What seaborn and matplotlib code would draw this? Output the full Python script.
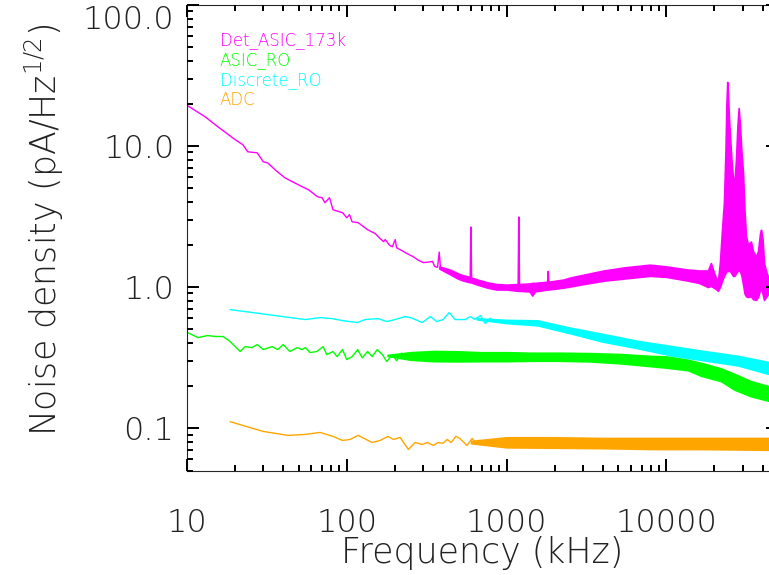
import matplotlib
matplotlib.use("Agg")
import matplotlib.pyplot as plt
import matplotlib.transforms as mtransforms
import seaborn as sns
import pandas as pd
from matplotlib.ticker import FixedLocator, FixedFormatter, LogLocator, NullFormatter

# ---------------- data ----------------
# Det_ASIC_173k : thin low-frequency part
det_line_f = [10.1, 13.0, 15.6, 20.0, 22.4, 24.0, 27.5, 30.0, 32.0, 35.6, 41, 52.6, 57.5, 61,
              65.5, 70, 73, 78, 82, 94, 100, 104, 108, 118, 135, 151, 162, 170, 174, 185, 193,
              201, 205, 216, 240, 261, 280, 302, 320, 344, 355, 370, 379, 386, 410, 430]
det_line_v = [19.3, 16.1, 13.7, 11.1, 10.2, 9.1, 8.95, 7.73, 7.6, 6.78, 5.95, 5.14, 4.9, 4.66,
              4.37, 4.30, 3.96, 4.30, 3.53, 3.37, 3.10, 3.26, 2.90, 2.86, 2.55, 2.39, 2.2, 2.10,
              2.17, 1.98, 1.93, 2.17, 1.90, 1.84, 1.72, 1.64, 1.55, 1.49, 1.50, 1.52, 1.40, 1.38,
              1.77, 1.36, 1.33, 1.27]
# Det_ASIC_173k : dense noisy part (lower / upper envelope)
det_band_f = [380, 450, 494, 537, 589, 594, 599, 656, 758, 865, 1000, 1175, 1185, 1195, 1394,
              1450, 1500, 1795, 1810, 1825, 2270, 2518, 2900, 4055, 5500, 7877, 10000, 13650,
              16000, 18200, 19020, 19800, 20400, 21030, 21650, 22280, 22940, 23440, 23780, 24060,
              24300, 24650, 25010, 25560, 26120, 26690, 27280, 27870, 28370, 28900, 29540, 30190,
              30850, 31520, 32440, 33870, 34860, 36400, 37480, 38580, 39140, 40000, 40880, 42060,
              43930, 50000]
det_band_lo = [1.35, 1.22, 1.15, 1.11, 1.08, 1.08, 1.08, 1.04, 0.99, 0.96, 0.96, 0.94, 0.94, 0.94,
               0.93, 0.87, 0.93, 0.96, 0.96, 0.96, 0.99, 1.01, 1.04, 1.11, 1.15, 1.20, 1.18, 1.11,
               1.07, 1.00, 1.02, 0.99, 0.97, 0.94, 1.00, 1.10, 1.20, 1.25, 1.30, 1.30, 1.30, 1.30,
               1.30, 1.25, 1.20, 1.20, 1.25, 1.30, 1.30, 1.30, 1.20, 1.05, 0.90, 0.86, 0.85, 0.86,
               0.82, 0.81, 0.85, 0.95, 1.00, 0.90, 0.81, 0.85, 0.91, 0.95]
det_band_hi = [1.40, 1.32, 1.25, 1.21, 1.18, 2.68, 1.17, 1.13, 1.08, 1.05, 1.04, 1.05, 3.15, 1.05,
               1.06, 1.07, 1.07, 1.09, 1.30, 1.09, 1.13, 1.17, 1.21, 1.31, 1.38, 1.44, 1.40, 1.33,
               1.31, 1.31, 1.48, 1.28, 1.17, 1.10, 1.50, 2.50, 4.00, 9.0, 20.0, 28.5, 24.0, 16.0,
               12.0, 8.0, 6.0, 5.5, 8.0, 14.0, 18.6, 14.0, 9.0, 6.5, 3.5, 2.3, 2.0, 2.1, 1.8, 1.64,
               1.8, 2.4, 2.55, 2.2, 1.48, 1.30, 1.13, 1.10]

# ASIC_RO
asic_line_f = [10.1, 11.7, 13.4, 15.0, 16.8, 18.6, 21.5, 23.1, 25.5, 27.5, 30, 34, 37, 40, 44, 49,
               52.5, 55, 59, 65, 71, 75, 82, 87, 94, 100, 108, 117, 125, 135, 144, 155, 167, 178,
               193, 205, 220]
asic_line_v = [0.475, 0.438, 0.453, 0.446, 0.446, 0.411, 0.349, 0.378, 0.372, 0.391, 0.360, 0.378,
               0.360, 0.391, 0.349, 0.372, 0.360, 0.372, 0.343, 0.349, 0.378, 0.332, 0.349, 0.321,
               0.360, 0.306, 0.321, 0.360, 0.315, 0.349, 0.321, 0.360, 0.332, 0.296, 0.332, 0.30,
               0.34]
asic_band_f = [180, 250, 350, 500, 687, 1000, 1394, 2150, 3300, 5100, 7900, 10000, 13650, 16440,
               21980, 26730, 33850, 50000]
asic_band_lo = [0.325, 0.305, 0.298, 0.297, 0.298, 0.298, 0.300, 0.300, 0.297, 0.288, 0.275, 0.268,
                0.257, 0.235, 0.215, 0.187, 0.168, 0.150]
asic_band_hi = [0.330, 0.345, 0.352, 0.350, 0.345, 0.345, 0.342, 0.342, 0.340, 0.335, 0.325, 0.322,
                0.305, 0.290, 0.265, 0.242, 0.215, 0.190]

# Discrete_RO
disc_line_f = [18.6, 55, 68, 81, 94, 117, 130, 157, 178, 200, 232, 250, 268, 297, 333, 366, 400,
               438, 476, 550, 594, 630, 687, 735, 790, 850]
disc_line_v = [0.692, 0.588, 0.607, 0.597, 0.578, 0.560, 0.588, 0.597, 0.569, 0.588, 0.617, 0.607,
               0.588, 0.560, 0.617, 0.569, 0.588, 0.659, 0.588, 0.588, 0.617, 0.590, 0.627, 0.551,
               0.60, 0.565]
disc_band_f = [650, 1000, 1563, 2500, 4000, 6620, 10670, 17180, 28050, 50000]
disc_band_lo = [0.59, 0.555, 0.535, 0.47, 0.41, 0.368, 0.328, 0.302, 0.278, 0.232]
disc_band_hi = [0.60, 0.585, 0.580, 0.515, 0.465, 0.415, 0.382, 0.352, 0.325, 0.285]

# ADC
adc_line_f = [18.6, 30, 43, 55, 68, 82, 94, 105, 118, 144, 162, 181, 196, 216, 243, 268, 297, 320,
              348, 372, 400, 425, 450, 482, 510, 565, 610, 640, 670, 720]
adc_line_v = [0.111, 0.0946, 0.0887, 0.0901, 0.0931, 0.0873, 0.0817, 0.083, 0.0887, 0.079,
              0.0817, 0.0873, 0.083, 0.0858, 0.0705, 0.079, 0.0765, 0.079, 0.0753, 0.079, 0.078,
              0.083, 0.079, 0.0873, 0.0844, 0.0753, 0.0844, 0.079, 0.0817, 0.076]
adc_band_f = [600, 1000, 2000, 4000, 8000, 16000, 50000]
adc_band_lo = [0.078, 0.073, 0.0725, 0.072, 0.071, 0.071, 0.070]
adc_band_hi = [0.081, 0.086, 0.086, 0.085, 0.085, 0.085, 0.085]

series_names = ["Det_ASIC_173k", "ASIC_RO", "Discrete_RO", "ADC"]
series_colors = ["#FF00FF", "#00FF00", "#00FFFF", "#FFA500"]

x_ticks = [10, 100, 1000, 10000]
x_ticklabels = ["10", "100", "1000", "10000"]
y_ticks = [0.1, 1, 10, 100]
y_ticklabels = ["0.1", "1.0", "10.0", "100.0"]
x_lim = (10, 50000)
y_lim = (0.05, 100)

# ---------------- plot ----------------
sns.set_style("ticks")
plt.rcParams["font.family"] = ["DejaVu Sans"]
plt.rcParams["font.weight"] = "light"
plt.rcParams["mathtext.default"] = "regular"
plt.rcParams["axes.axisbelow"] = False

fig = plt.figure(figsize=(7.69, 5.75), dpi=100)
ax = fig.add_axes([187 / 769, (575 - 470.5) / 575, 591 / 769, 465.5 / 575])

lines = [(det_line_f, det_line_v), (asic_line_f, asic_line_v),
         (disc_line_f, disc_line_v), (adc_line_f, adc_line_v)]
bands = [(det_band_f, det_band_lo, det_band_hi), (asic_band_f, asic_band_lo, asic_band_hi),
         (disc_band_f, disc_band_lo, disc_band_hi), (adc_band_f, adc_band_lo, adc_band_hi)]

for (lf, lv), (bf, blo, bhi), col in zip(lines, bands, series_colors):
    df = pd.DataFrame({"f": lf, "v": lv})
    sns.lineplot(data=df, x="f", y="v", color=col, linewidth=1.0, ax=ax,
                 estimator=None, sort=False, legend=False)
    ax.fill_between(bf, blo, bhi, color=col, linewidth=1.2, edgecolor=col)

ax.set_xscale("log")
ax.set_yscale("log")
ax.set_xlim(*x_lim)
ax.set_ylim(*y_lim)

ax.xaxis.set_major_locator(FixedLocator(x_ticks))
ax.xaxis.set_major_formatter(FixedFormatter(x_ticklabels))
ax.xaxis.set_minor_locator(LogLocator(base=10, subs=range(2, 10), numticks=20))
ax.xaxis.set_minor_formatter(NullFormatter())
ax.yaxis.set_major_locator(FixedLocator(y_ticks))
ax.yaxis.set_major_formatter(FixedFormatter(y_ticklabels))
ax.yaxis.set_minor_locator(LogLocator(base=10, subs=range(2, 10), numticks=20))
ax.yaxis.set_minor_formatter(NullFormatter())

ax.tick_params(which="major", direction="in", top=True, right=True, bottom=True, left=True,
               width=1.3, color="black", length=8.5, labelcolor="#222222", labelsize=23)
ax.tick_params(which="minor", direction="in", top=True, right=True, bottom=True, left=True,
               width=1.3, color="black", length=4)
ax.tick_params(axis="x", which="major", pad=27)
ax.tick_params(axis="y", which="major", pad=9)
ax.set_axisbelow(False)
ax.xaxis.set_zorder(10)
ax.yaxis.set_zorder(10)

# reinforce the inward tick marks at the same tick positions
ax_h_px = 465.5
ax_w_px = 591.0
maj_px, min_px = 11.8, 5.5
x_minor = [d * k for d in [1, 10, 100, 1000, 10000] for k in range(2, 10)
           if x_lim[0] < d * k < x_lim[1]]
y_minor = [d * k for d in [0.01, 0.1, 1, 10] for k in range(2, 10)
           if y_lim[0] <= d * k < y_lim[1]]
tx = mtransforms.blended_transform_factory(ax.transData, ax.transAxes)
ty = mtransforms.blended_transform_factory(ax.transAxes, ax.transData)
for vals, ln in ((x_ticks, maj_px), (x_minor, min_px)):
    fr = ln / ax_h_px
    for v in vals:
        ax.plot([v, v], [0, fr], transform=tx, color="black", lw=1.3, clip_on=False,
                solid_capstyle="butt", zorder=11)
        ax.plot([v, v], [1 - fr, 1], transform=tx, color="black", lw=1.3, clip_on=False,
                solid_capstyle="butt", zorder=11)
for vals, ln in ((y_ticks, maj_px), (y_minor, min_px)):
    fr = ln / ax_w_px
    for v in vals:
        ax.plot([0, fr], [v, v], transform=ty, color="black", lw=1.3, clip_on=False,
                solid_capstyle="butt", zorder=11)
        ax.plot([1 - fr, 1], [v, v], transform=ty, color="black", lw=1.3, clip_on=False,
                solid_capstyle="butt", zorder=11)

ax.xaxis.label.set_visible(False)
ax.yaxis.label.set_visible(False)

# legend as coloured text
leg_y = [0.914, 0.871, 0.828, 0.785]
for name, col, yy in zip(series_names, series_colors, leg_y):
    ax.text(0.0558, yy, name, color=col, fontsize=12, transform=ax.transAxes,
            ha="left", va="baseline")

fig.text(482.5 / 769, 12 / 575, "Frequency (kHz)", ha="center", va="baseline", fontsize=25,
         color="#222222")
fig.text(44 / 769, 1 - 230 / 575, r"Noise density (pA/Hz$^{1/2}$)", rotation=90,
         ha="center", va="center", fontsize=25, color="#222222")

ax.yaxis.get_major_ticks()[len(y_ticks) - 1].label1.set_verticalalignment("top")

fig.savefig("out.png", dpi=100)
